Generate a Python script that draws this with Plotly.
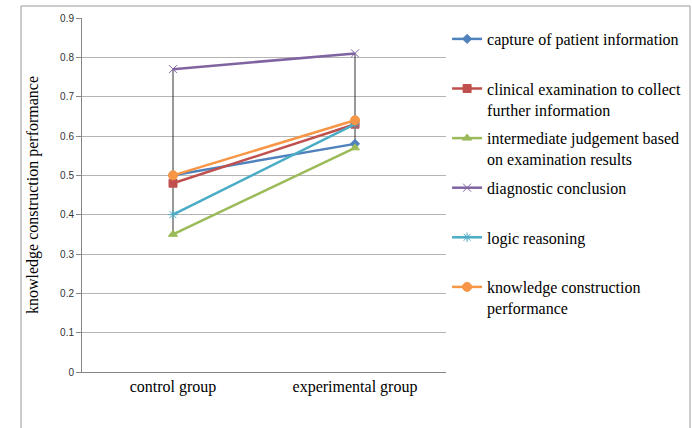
import plotly.graph_objects as go

# Knowledge construction performance by group
groups = ["control group", "experimental group"]

capture_info = [0.50, 0.58]
clinical_exam = [0.48, 0.63]
intermediate_judgement = [0.35, 0.57]
diagnostic_conclusion = [0.77, 0.81]
logic_reasoning = [0.40, 0.63]
knowledge_construction = [0.50, 0.64]

y_ticks = [0, 0.1, 0.2, 0.3, 0.4, 0.5, 0.6, 0.7, 0.8, 0.9]
y_tick_labels = ["0", "0.1", "0.2", "0.3", "0.4", "0.5", "0.6", "0.7", "0.8", "0.9"]

series_names = [
    "capture of patient information",
    "clinical examination to collect<br>further information",
    "intermediate judgement based<br>on examination results",
    "diagnostic conclusion",
    "logic reasoning",
    "knowledge construction<br>performance",
]
series_values = [capture_info, clinical_exam, intermediate_judgement,
                 diagnostic_conclusion, logic_reasoning, knowledge_construction]
colors = ["#4F81BD", "#C0504D", "#9BBB59", "#8064A2", "#4BACC6", "#F79646"]
symbols = ["diamond", "square", "triangle-up", "x-thin-open", "asterisk-open", "circle"]
sizes = [7, 8, 8, 8, 8, 9]

SERIF = "Liberation Serif, Times New Roman, serif"

fig = go.Figure()

# high-low lines spanning all series at each group
hl_x, hl_y = [], []
for i, g in enumerate(groups):
    vals = [s[i] for s in series_values]
    hl_x += [g, g, None]
    hl_y += [min(vals), max(vals), None]
fig.add_trace(go.Scatter(x=hl_x, y=hl_y, mode="lines",
                         line=dict(color="#333333", width=1),
                         showlegend=False, hoverinfo="skip"))

for k, (name, vals) in enumerate(zip(series_names, series_values)):
    label = name if "<br>" in name else name + "<br> "
    fig.add_trace(go.Scatter(
        x=groups, y=vals, mode="lines+markers", name=label,
        legendgroup=str(k),
        line=dict(color=colors[k], width=2.5),
        marker=dict(symbol=symbols[k], size=sizes[k], color=colors[k],
                    line=dict(color=colors[k], width=1)),
    ))

fig.update_layout(
    width=692, height=428,
    margin=dict(l=82, r=246, t=18, b=56, autoexpand=False),
    paper_bgcolor="white", plot_bgcolor="white",
    font=dict(family=SERIF, size=16, color="black"),
    showlegend=True,
    legend=dict(x=1.003, xanchor="left", y=(372 - 22) / 354, yanchor="top",
                font=dict(family=SERIF, size=16, color="black"),
                tracegroupgap=5, valign="top", bgcolor="rgba(0,0,0,0)"),
    xaxis=dict(type="category", showgrid=False, showline=True,
               linecolor="#868686", linewidth=1, ticks="",
               tickfont=dict(family=SERIF, size=16, color="black"),
               range=[-0.5, 1.5], fixedrange=True),
    yaxis=dict(range=[0, 0.9], tickmode="array", tickvals=y_ticks,
               ticktext=y_tick_labels,
               showgrid=True, gridcolor="#B4B4B4",
               gridwidth=1, showline=True, linecolor="#868686", linewidth=1,
               ticks="outside", ticklen=5, tickcolor="#868686",
               tickfont=dict(family="Liberation Sans", size=10, color="#333333"),
               zeroline=False,
               title=dict(text="knowledge construction performance",
                          font=dict(family=SERIF, size=16),
                          standoff=17)),
    shapes=[dict(type="rect", xref="paper", yref="paper",
                 x0=(21 - 82) / 364, x1=(690 - 82) / 364,
                 y0=(372 - 440) / 354, y1=(372 - 6) / 354,
                 line=dict(color="#9A9A9A", width=1), layer="below")],
)

fig.write_html("out.html")
